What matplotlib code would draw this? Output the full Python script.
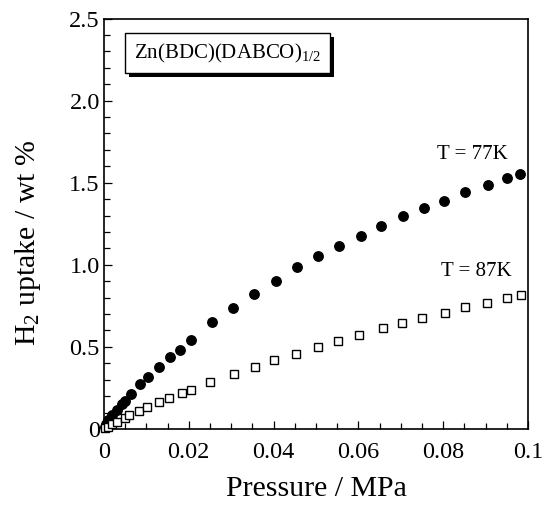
import matplotlib
matplotlib.use("Agg")
import matplotlib.pyplot as plt
import matplotlib.patheffects as pe
from matplotlib.ticker import MultipleLocator, FixedLocator

plt.rcParams['font.family'] = ['Liberation Serif', 'DejaVu Serif']
plt.rcParams['mathtext.fontset'] = 'custom'
plt.rcParams['mathtext.rm'] = 'Liberation Serif'
plt.rcParams['mathtext.it'] = 'Liberation Serif:italic'

# H2 uptake at 77 K (filled circles)
p77 = [0.0002, 0.0005, 0.0010, 0.0019, 0.0030, 0.0042, 0.0050, 0.0063,
       0.0085, 0.0104, 0.0129, 0.0155, 0.0180, 0.0205, 0.0255, 0.0304,
       0.0353, 0.0406, 0.0455, 0.0504, 0.0555, 0.0605, 0.0654, 0.0705,
       0.0754, 0.0802, 0.0852, 0.0905, 0.0951, 0.0981]
w77 = [0.010, 0.030, 0.055, 0.085, 0.116, 0.150, 0.173, 0.212,
       0.272, 0.319, 0.376, 0.437, 0.482, 0.543, 0.652, 0.736,
       0.823, 0.901, 0.984, 1.051, 1.114, 1.177, 1.238, 1.299,
       1.346, 1.390, 1.443, 1.488, 1.529, 1.553]

# H2 uptake at 87 K (open squares)
p87 = [0.0003, 0.0010, 0.0020, 0.0030, 0.0050, 0.0060, 0.0083, 0.0101,
       0.0130, 0.0154, 0.0184, 0.0206, 0.0251, 0.0307, 0.0357, 0.0401,
       0.0454, 0.0504, 0.0551, 0.0601, 0.0657, 0.0704, 0.0751, 0.0804,
       0.0851, 0.0903, 0.0950, 0.0983]
w87 = [0.005, 0.015, 0.030, 0.045, 0.069, 0.085, 0.112, 0.132,
       0.167, 0.189, 0.221, 0.240, 0.287, 0.335, 0.380, 0.421,
       0.459, 0.502, 0.538, 0.575, 0.616, 0.648, 0.677, 0.705,
       0.742, 0.770, 0.795, 0.817]

xticks = [0, 0.02, 0.04, 0.06, 0.08, 0.1]
xticklabels = ['0', '0.02', '0.04', '0.06', '0.08', '0.1']
yticks = [0, 0.5, 1.0, 1.5, 2.0, 2.5]
yticklabels = ['0', '0.5', '1.0', '1.5', '2.0', '2.5']

fig = plt.figure(figsize=(5.46, 5.07), dpi=100)
ax = fig.add_axes([0.1905, 0.1538, 0.7765, 0.8097])

ax.plot(p77, w77, 'o', color='black', markersize=6.8, clip_on=False, zorder=3)
ax.plot(p87, w87, 's', markerfacecolor='white', markeredgecolor='black',
        markeredgewidth=1.0, markersize=5.5, clip_on=False, zorder=3)

ax.set_xlim(0, 0.1)
ax.set_ylim(0, 2.5)
ax.xaxis.set_major_locator(FixedLocator(xticks))
ax.set_xticklabels(xticklabels)
ax.yaxis.set_major_locator(FixedLocator(yticks))
ax.set_yticklabels(yticklabels)
ax.xaxis.set_minor_locator(MultipleLocator(0.005))
ax.yaxis.set_minor_locator(MultipleLocator(0.1))
ax.tick_params(which='both', direction='in', labelsize=17.5, width=0.9)
ax.tick_params(which='major', length=6)
ax.tick_params(which='minor', length=4)
ax.tick_params(axis='x', pad=9)
ax.tick_params(axis='y', pad=3)
for s in ax.spines.values():
    s.set_linewidth(1.2)

ax.set_xlabel('Pressure / MPa', fontsize=21.5, labelpad=10)
ax.set_ylabel('H$_2$ uptake / wt %', fontsize=21.5)
ax.yaxis.set_label_coords(-0.145, 0.455)

ax.text(0.0869, 1.67, 'T = 77K', fontsize=15, ha='center', va='center')
ax.text(0.0878, 0.96, 'T = 87K', fontsize=15, ha='center', va='center')

t = ax.text(0.291, 0.916, 'Zn(BDC)(DABCO)$_{1/2}$', transform=ax.transAxes,
            fontsize=15, ha='center', va='center',
            bbox=dict(boxstyle='square,pad=0.42', facecolor='white',
                      edgecolor='black', linewidth=1.0))
t.get_bbox_patch().set_path_effects([
    pe.SimplePatchShadow(offset=(3, -3), shadow_rgbFace='black', alpha=1.0),
    pe.Normal()])

fig.savefig('out.png', dpi=100)
